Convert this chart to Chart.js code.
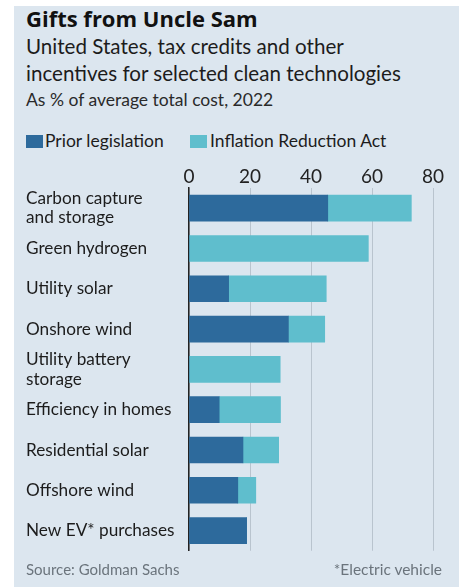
<!DOCTYPE html>
<html>
<head>
<meta charset="utf-8">
<script src="https://cdn.jsdelivr.net/npm/chart.js@4"></script>
<style>
  html, body { margin:0; padding:0; width:459px; height:587px; background:#ffffff; overflow:hidden; }
  #bg { position:absolute; left:14px; top:6px; width:445px; height:581px; background:#dce6ef; }
  .t { position:absolute; white-space:nowrap; color:#1c1c1c; font-family:"Lato", sans-serif; }
  #title { left:26px; top:3px; font-family:"Open Sans", sans-serif; font-weight:700; font-size:22px; line-height:30px; color:#111; }
  #sub { left:26px; top:33px; font-size:20.6px; line-height:26.5px; }
  #sub3 { left:26px; top:89px; font-size:17.5px; line-height:22px; color:#2a2a2a; }
  .lg { position:absolute; top:135px; width:17px; height:13px; }
  .lt { top:129px; font-size:17.5px; line-height:24px; }
  #src { left:26px; top:559px; font-size:15px; line-height:20px; color:#6b747c; }
  #note { right:17px; top:559px; font-size:15.5px; line-height:20px; color:#6b747c; }
  #wrap { position:absolute; left:0; top:150px; width:459px; height:420px; }
</style>
</head>
<body>
<div id="bg"></div>
<div class="t" id="title">Gifts from Uncle Sam</div>
<div class="t" id="sub">United States, tax credits and other<br>incentives for selected clean technologies</div>
<div class="t" id="sub3">As % of average total cost, 2022</div>
<div class="lg" style="left:26px;background:#2d6a9c"></div>
<div class="t lt" style="left:45px">Prior legislation</div>
<div class="lg" style="left:190px;background:#5fbecd"></div>
<div class="t lt" style="left:210px">Inflation Reduction Act</div>
<div id="wrap"><canvas id="c" width="459" height="420"></canvas></div>
<div class="t" id="src">Source: Goldman Sachs</div>
<div class="t" id="note">*Electric vehicle</div>
<script>
const categories = [
  ["Carbon capture", "and storage"],
  "Green hydrogen",
  "Utility solar",
  "Onshore wind",
  ["Utility battery", "storage"],
  "Efficiency in homes",
  "Residential solar",
  "Offshore wind",
  "New EV* purchases"
];
const priorLegislation = [45.5, 0, 13, 32.6, 0, 9.9, 17.7, 16, 18.9];
const inflationReductionAct = [27.4, 58.8, 32, 11.9, 29.9, 20.1, 11.7, 5.9, 0];
const xTicks = [0, 20, 40, 60, 80];

const ctx = document.getElementById('c');
new Chart(ctx, {
  type: 'bar',
  data: {
    labels: categories,
    datasets: [
      { label: 'Prior legislation', data: priorLegislation, backgroundColor: '#2d6a9c', barThickness: 26 },
      { label: 'Inflation Reduction Act', data: inflationReductionAct, backgroundColor: '#5fbecd', barThickness: 26 }
    ]
  },
  options: {
    indexAxis: 'y',
    responsive: false,
    animation: false,
    layout: { padding: { left: 26, right: 26, top: 0, bottom: 18 } },
    plugins: { legend: { display: false }, tooltip: { enabled: false } },
    scales: {
      x: {
        position: 'top',
        stacked: true,
        min: 0, max: 80,
        afterBuildTicks: (s) => { s.ticks = xTicks.map(v => ({ value: v })); },
        afterFit: (s) => { s.height = 38; },
        grid: { color: '#b9c4ce', lineWidth: 1, drawTicks: false },
        border: { display: false },
        ticks: { padding: 0, color: '#222', font: { family: 'Lato', size: 19 } }
      },
      y: {
        stacked: true,
        afterFit: (s) => { s.width = 163; },
        grid: { display: false, drawTicks: false },
        border: { display: true, color: '#222', width: 1.5 },
        ticks: { autoSkip: false, crossAlign: 'far', padding: 0, color: '#1c1c1c', font: { family: 'Lato', size: 17.2, lineHeight: 1.12 } }
      }
    }
  }
});
</script>
</body>
</html>
